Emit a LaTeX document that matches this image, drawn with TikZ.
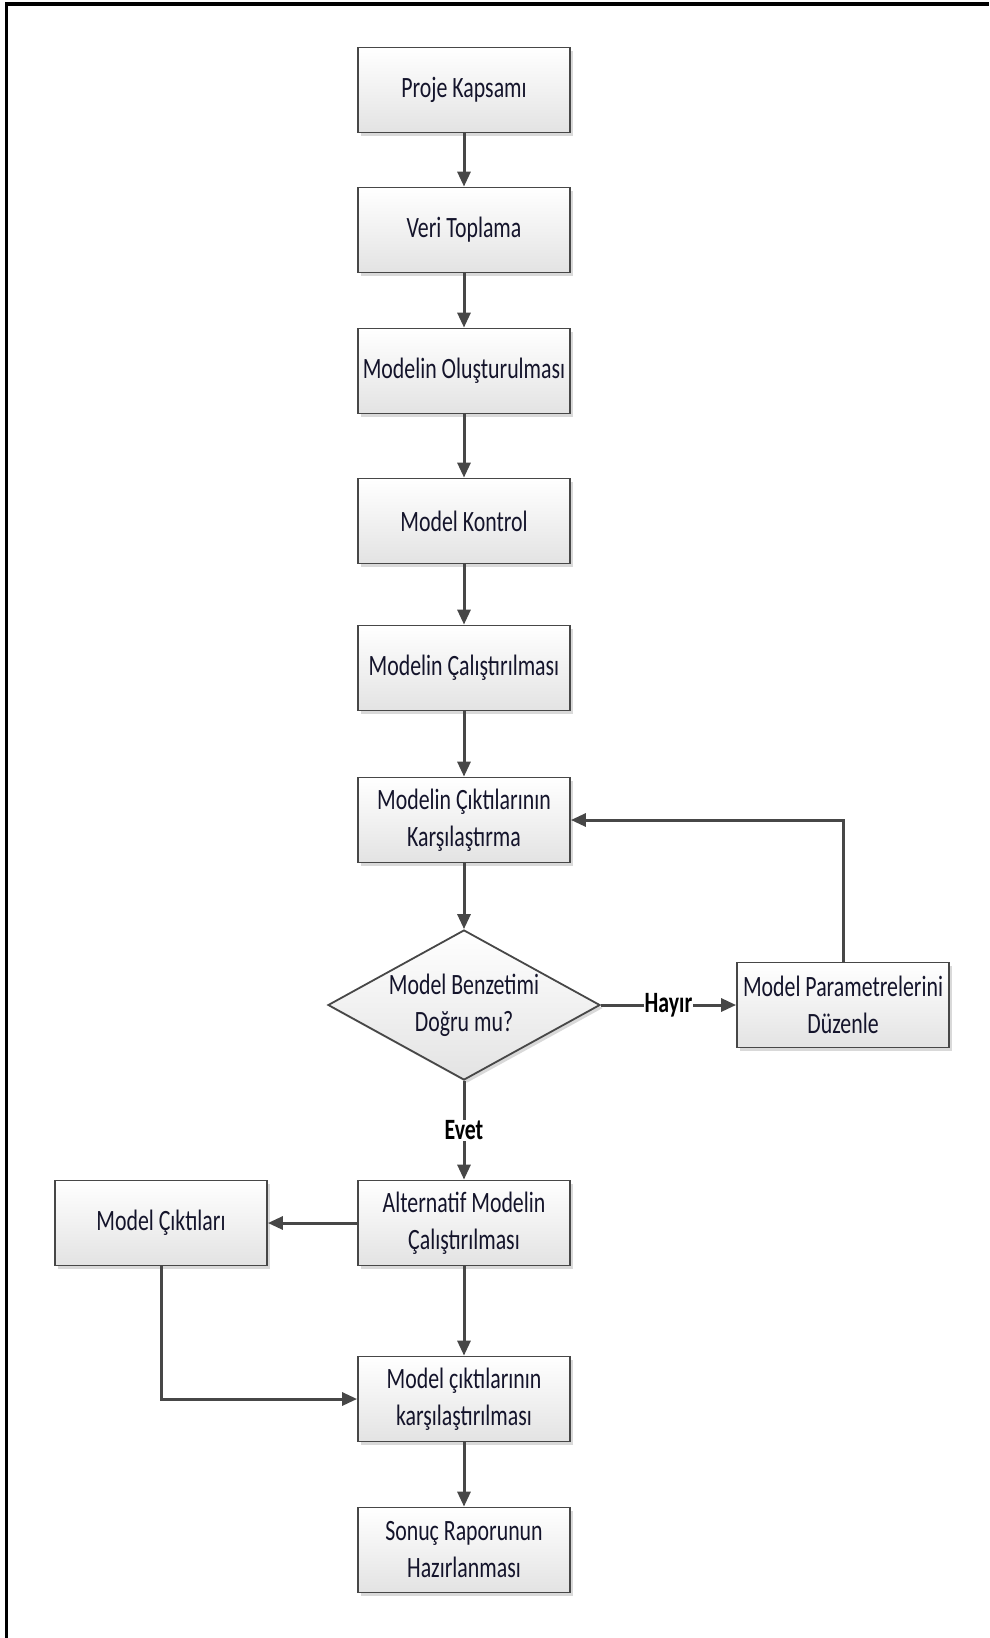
\documentclass[tikz,border=0pt]{standalone}
\usepackage{fontspec}
\setmainfont{Carlito}[FakeStretch=0.74]
\usetikzlibrary{shapes.geometric,arrows.meta,shadows}
\definecolor{linecol}{HTML}{474747}
\definecolor{txtcol}{HTML}{14142B}

\begin{document}
\begin{tikzpicture}[x=1pt,y=-1pt]
\tikzstyle{every node}+=[font=\fontsize{29.5}{37}\selectfont, text=txtcol]
\tikzstyle{box}=[draw=linecol, line width=1.8pt, top color=white, bottom color=black!11, minimum width=212pt, minimum height=85pt, align=center, inner sep=2pt, drop shadow={shadow xshift=3pt, shadow yshift=-3pt, fill=black!25, opacity=0.6}]
\tikzstyle{decision}=[box, diamond, aspect=1.81, minimum width=272pt, minimum height=150pt, inner sep=0pt]
\tikzstyle{arr}=[draw=linecol, line width=3pt, -{Triangle[length=15pt,width=13pt]}]
\tikzstyle{lbl}=[fill=white, inner sep=1pt, font=\fontsize{29.5}{37}\selectfont\bfseries, text=black]
\useasboundingbox (0,0) rectangle (989,1638);
% frame
\draw[line width=3.5pt] (6.5,1638) -- (6.5,4) -- (989,4);
% main column
\node[box] (kapsam) at (464,90) {Proje Kapsamı};
\node[box] (veri) at (464,230) {Veri Toplama};
\node[box] (olustur) at (464,371) {Modelin Oluşturulması};
\node[box] (kontrol) at (464,521) {Model Kontrol};
\node[box] (calistir) at (464,668) {Modelin Çalıştırılması};
\node[box] (karsilas) at (464,820) {Modelin Çıktılarının\\Karşılaştırma};
\node[decision] (karar) at (464,1005) {Model Benzetimi\\Doğru mu?};
\node[box] (duzenle) at (843,1005) {Model Parametrelerini\\Düzenle};
\node[box] (alternatif) at (464,1223) {Alternatif Modelin\\Çalıştırılması};
\node[box] (ciktilar) at (161,1223) {Model Çıktıları};
\node[box] (karsilastir) at (464,1399) {Model çıktılarının\\karşılaştırılması};
\node[box] (rapor) at (464,1550) {Sonuç Raporunun\\Hazırlanması};
% connectors
\draw[arr] (kapsam) -- (veri);
\draw[arr] (veri) -- (olustur);
\draw[arr] (olustur) -- (kontrol);
\draw[arr] (kontrol) -- (calistir);
\draw[arr] (calistir) -- (karsilas);
\draw[arr] (karsilas) -- (karar);
\draw[arr] (karar) -- node[lbl] {Hayır} (duzenle);
\draw[arr] (duzenle.north) |- (karsilas.east);
\draw[arr] (karar) -- node[lbl] {Evet} (alternatif);
\draw[arr] (alternatif) -- (ciktilar);
\draw[arr] (alternatif) -- (karsilastir);
\draw[arr] (ciktilar.south) |- (karsilastir.west);
\draw[arr] (karsilastir) -- (rapor);
\end{tikzpicture}
\end{document}
